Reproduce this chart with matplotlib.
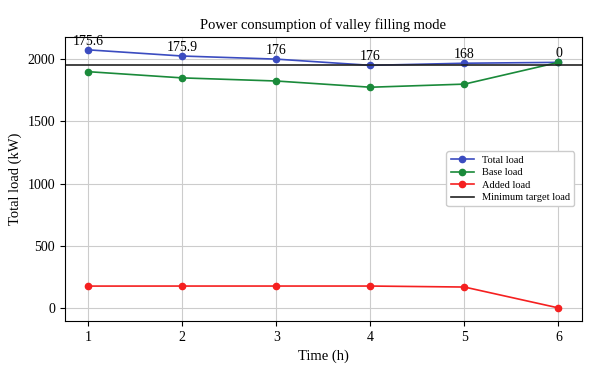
import matplotlib
matplotlib.use("Agg")
import matplotlib.pyplot as plt

hours = [1, 2, 3, 4, 5, 6]
base_load = [1900, 1850, 1825, 1775, 1800, 1975]
added_load = [175.6, 175.9, 176, 176, 168, 0]
total_load = [b + a for b, a in zip(base_load, added_load)]
added_labels = ["175.6", "175.9", "176", "176", "168", "0"]
min_target = 1950

plt.rcParams['font.family'] = ['Liberation Serif', 'DejaVu Serif']

fig = plt.figure(figsize=(6, 3.77), dpi=100)
ax = fig.add_axes([0.108, 0.149, 0.862, 0.753])

ax.plot(hours, total_load, '-o', color='#3b4cc0', ms=4.5, lw=1.2, label='Total load')
ax.plot(hours, base_load, '-o', color='#1a8a3a', ms=4.5, lw=1.2, label='Base load')
ax.plot(hours, added_load, '-o', color='#f52020', ms=4.5, lw=1.2, label='Added load')
ax.axhline(min_target, color='#222222', lw=1.2, label='Minimum target load')

for x, y, t in zip(hours, total_load, added_labels):
    ax.annotate(t, (x, y), xytext=(0, 1.5), textcoords='offset points',
                ha='center', va='bottom', fontsize=10)

ax.set_xlim(0.75, 6.25)
ax.set_xticks(hours)
ax.set_yticks([0, 500, 1000, 1500, 2000])
ax.grid(True, color='#cccccc', lw=0.8)
ax.set_axisbelow(True)
ax.tick_params(labelsize=10)
ax.set_xlabel('Time (h)', fontsize=10.5)
ax.set_ylabel('Total load (kW)', fontsize=10.5)
ax.set_title('Power consumption of valley filling mode', fontsize=10.5)
ax.legend(loc='center right', fontsize=7.5, bbox_to_anchor=(0.995, 0.5), framealpha=1,
          handlelength=2.2, labelspacing=0.3)

fig.savefig('out.png', dpi=100)
